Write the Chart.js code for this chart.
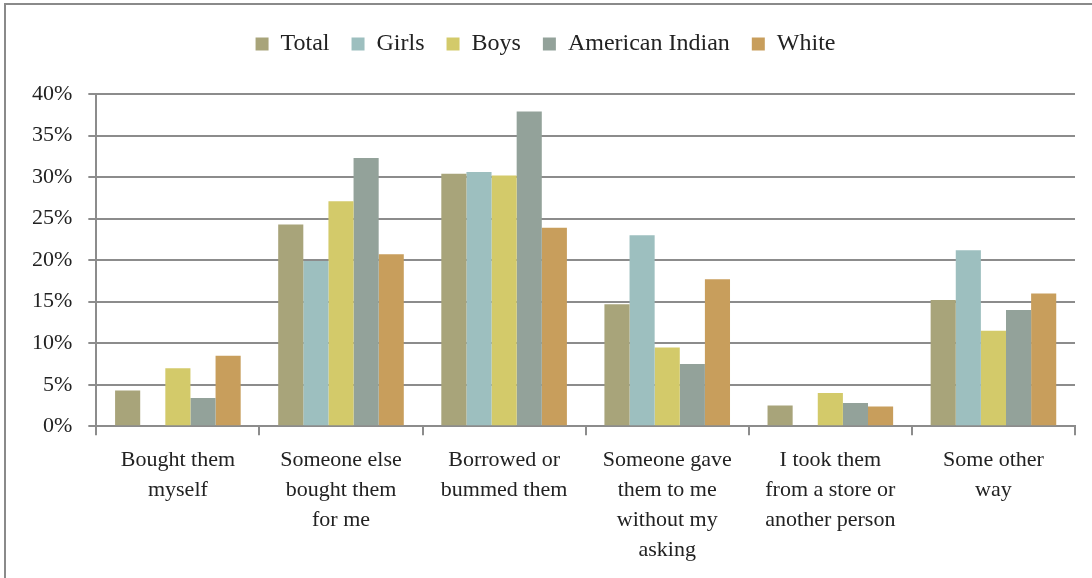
<!DOCTYPE html>
<html>
<head>
<meta charset="utf-8">
<script src="https://cdn.jsdelivr.net/npm/chart.js@4/dist/chart.umd.min.js"></script>
<style>
  html, body { margin: 0; padding: 0; background: #fff; }
  #frame { position: absolute; left: 4px; top: 3px; width: 1200px; height: 700px; border: 1px solid #8a8a8a; border-width: 2px 0 0 2px; }
  #wrap { position: absolute; left: 0; top: 0; width: 1092px; height: 578px; }
</style>
</head>
<body>
<div id="frame"></div>
<div id="wrap"><canvas id="myChart" width="1092" height="578"></canvas></div>
<script>
const categories = [
    ['Bought them', 'myself'],
    ['Someone else', 'bought them', 'for me'],
    ['Borrowed or', 'bummed them'],
    ['Someone gave', 'them to me', 'without my', 'asking'],
    ['I took them', 'from a store or', 'another person'],
    ['Some other', 'way']
];
const total = [4.3, 24.3, 30.4, 14.7, 2.5, 15.2];
const girls = [0, 19.9, 30.6, 23.0, 0, 21.2];
const boys = [7.0, 27.1, 30.2, 9.5, 4.0, 11.5];
const americanIndian = [3.4, 32.3, 37.9, 7.5, 2.8, 14.0];
const white = [8.5, 20.7, 23.9, 17.7, 2.4, 16.0];
const yTicks = [0, 5, 10, 15, 20, 25, 30, 35, 40];

const fontFamily = "'Liberation Serif', 'DejaVu Serif', serif";
const textColor = '#222';

// extra room under the legend
const legendGap = {
    id: 'legendGap',
    beforeInit(chart) {
        const origFit = chart.legend.fit;
        chart.legend.fit = function() {
            origFit.bind(chart.legend)();
            this.height += 28;
        };
    }
};

const ctx = document.getElementById('myChart').getContext('2d');
const myChart = new Chart(ctx, {
    type: 'bar',
    data: {
        labels: categories,
        datasets: [
            { label: 'Total', data: total, backgroundColor: '#a8a47a' },
            { label: 'Girls', data: girls, backgroundColor: '#9dbfbf' },
            { label: 'Boys', data: boys, backgroundColor: '#d3ca6a' },
            { label: 'American Indian', data: americanIndian, backgroundColor: '#93a29a' },
            { label: 'White', data: white, backgroundColor: '#c89e5c' }
        ]
    },
    options: {
        responsive: false,
        animation: false,
        layout: { padding: { left: 16, right: 17, top: 10, bottom: 3 } },
        datasets: {
            bar: { categoryPercentage: 0.77, barPercentage: 1.0 }
        },
        plugins: {
            legend: {
                position: 'top',
                labels: {
                    color: textColor,
                    font: { family: fontFamily, size: 24 },
                    boxWidth: 13,
                    boxHeight: 13,
                    padding: 22
                }
            },
            tooltip: { enabled: false }
        },
        scales: {
            x: {
                grid: {
                    offset: true,
                    drawOnChartArea: false,
                    color: '#8c8c8c',
                    lineWidth: 2,
                    tickLength: 9
                },
                border: { color: '#8c8c8c', width: 2 },
                ticks: {
                    color: textColor,
                    font: { family: fontFamily, size: 22, lineHeight: 1.36 },
                    maxRotation: 0,
                    padding: 10
                }
            },
            y: {
                min: 0,
                max: 40,
                afterBuildTicks: function(scale) {
                    scale.ticks = yTicks.map(v => ({ value: v }));
                },
                grid: {
                    color: '#8c8c8c',
                    lineWidth: 2,
                    tickLength: 8
                },
                border: { color: '#8c8c8c', width: 2 },
                ticks: {
                    color: textColor,
                    font: { family: fontFamily, size: 22 },
                    padding: 16,
                    callback: function(v) { return v + '%'; }
                }
            }
        }
    },
    plugins: [legendGap]
});
</script>
</body>
</html>
